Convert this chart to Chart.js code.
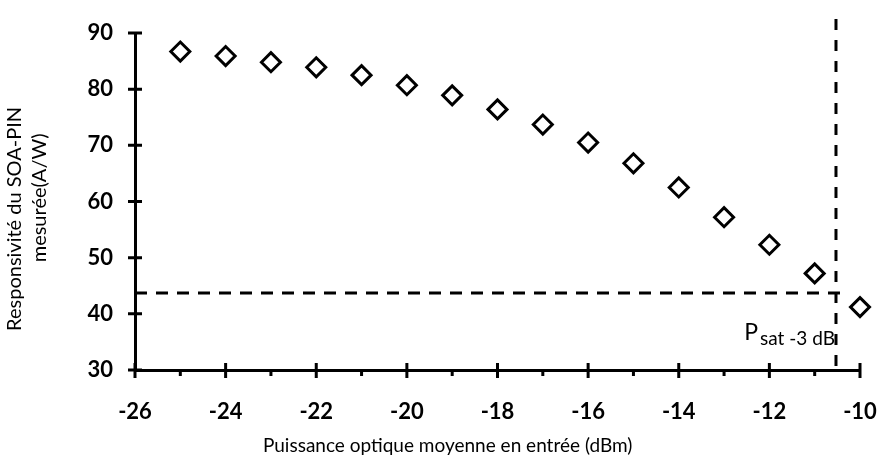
<!DOCTYPE html>
<html>
<head>
<meta charset="utf-8">
<script src="https://cdn.jsdelivr.net/npm/chart.js@4"></script>
<style>
  html, body { margin: 0; padding: 0; background: #fff; }
  #wrap { width: 879px; height: 458px; }
</style>
</head>
<body>
<div id="wrap"><canvas id="chart"></canvas></div>
<script>
// input power (dBm) and measured responsivity (A/W)
const inputPower = [-25, -24, -23, -22, -21, -20, -19, -18, -17, -16, -15, -14, -13, -12, -11, -10];
const responsivity = [86.7, 85.9, 84.8, 83.9, 82.5, 80.7, 78.9, 76.4, 73.7, 70.5, 66.8, 62.5, 57.2, 52.3, 47.2, 41.2];

// -3 dB level and saturation power
const level3dB = 43.7;
const psat3dB = -10.53;

const xTitle = 'Puissance optique moyenne en entrée (dBm)';
const yTitle = ['Responsivité du SOA-PIN', 'mesurée(A/W)'];

const FONT = 'Lato, "Open Sans", sans-serif';

// tick marks crossing the axes, minor ticks on x, axis titles and the -3 dB guides
const guides = {
  id: 'guides',
  afterDraw(chart) {
    const { ctx, scales: { x, y } } = chart;
    const x0 = x.left, y0 = y.bottom;
    ctx.save();
    ctx.strokeStyle = '#000';
    ctx.lineWidth = 3;
    ctx.setLineDash([]);
    ctx.beginPath();
    y.ticks.forEach(t => {
      const py = y.getPixelForValue(t.value);
      ctx.moveTo(x0 - 7, py); ctx.lineTo(x0 + 7, py);
    });
    x.ticks.forEach(t => {
      const px = x.getPixelForValue(t.value);
      ctx.moveTo(px, y0 - 7); ctx.lineTo(px, y0 + 8);
      if (t.value < x.max) {
        const pm = x.getPixelForValue(t.value + 1);
        ctx.moveTo(pm, y0); ctx.lineTo(pm, y0 + 6);
      }
    });
    ctx.stroke();

    // dashed guides
    const hy = y.getPixelForValue(level3dB);
    const vx = x.getPixelForValue(psat3dB);
    ctx.setLineDash([12, 9]);
    ctx.beginPath();
    ctx.moveTo(x0, hy); ctx.lineTo(vx + 4, hy);
    ctx.stroke();
    ctx.setLineDash([11, 10]);
    ctx.beginPath();
    ctx.moveTo(vx, y.getPixelForValue(92.5)); ctx.lineTo(vx, y0);
    ctx.stroke();

    // P sat -3 dB label
    ctx.fillStyle = '#000';
    ctx.textBaseline = 'alphabetic';
    ctx.textAlign = 'right';
    ctx.font = '19px ' + FONT;
    const sub = 'sat -3 dB';
    const subW = ctx.measureText(sub).width;
    const bx = vx - 1;
    const by = y.getPixelForValue(35.3);
    ctx.fillText(sub, bx, by + 5);
    ctx.font = '23px ' + FONT;
    ctx.fillText('P', bx - subW - 2, by);

    // axis titles
    ctx.textAlign = 'center';
    ctx.textBaseline = 'middle';
    ctx.font = '19px ' + FONT;
    ctx.fillText(xTitle, x.getPixelForValue(-19.1), 446);
    ctx.font = '20px ' + FONT;
    ctx.translate(15, y.getPixelForValue(56.9));
    ctx.rotate(-Math.PI / 2);
    ctx.fillText(yTitle[0], 0, 0);
    ctx.fillText(yTitle[1], 21, 25);
    ctx.restore();
  }
};

new Chart(document.getElementById('chart'), {
  type: 'scatter',
  data: {
    datasets: [{
      data: inputPower.map((p, i) => ({ x: p, y: responsivity[i] })),
      clip: false,
      pointStyle: 'rectRot',
      pointRadius: 9.5,
      pointBorderWidth: 3,
      pointBackgroundColor: '#fff',
      pointBorderColor: '#000',
      pointHoverRadius: 9.5
    }]
  },
  options: {
    responsive: true,
    maintainAspectRatio: false,
    animation: false,
    layout: { padding: { top: 33, right: 19, left: 0, bottom: 0 } },
    plugins: {
      legend: { display: false },
      tooltip: { enabled: false }
    },
    scales: {
      x: {
        type: 'linear',
        min: -26, max: -10,
        afterFit: s => { s.height = 88; s.paddingRight = 0; s.paddingLeft = 0; },
        border: { color: '#000', width: 3 },
        grid: { display: false, drawTicks: false },
        ticks: {
          stepSize: 2,
          padding: 29,
          color: '#000',
          font: { family: FONT, size: 22, weight: 'bold' }
        }
      },
      y: {
        min: 30, max: 90,
        afterFit: s => { s.width = 135; s.paddingTop = 0; s.paddingBottom = 0; },
        border: { color: '#000', width: 3 },
        grid: { display: false, drawTicks: false },
        ticks: {
          stepSize: 10,
          padding: 22,
          color: '#000',
          font: { family: FONT, size: 22, weight: 'bold' }
        }
      }
    }
  },
  plugins: [guides]
});
</script>
</body>
</html>
